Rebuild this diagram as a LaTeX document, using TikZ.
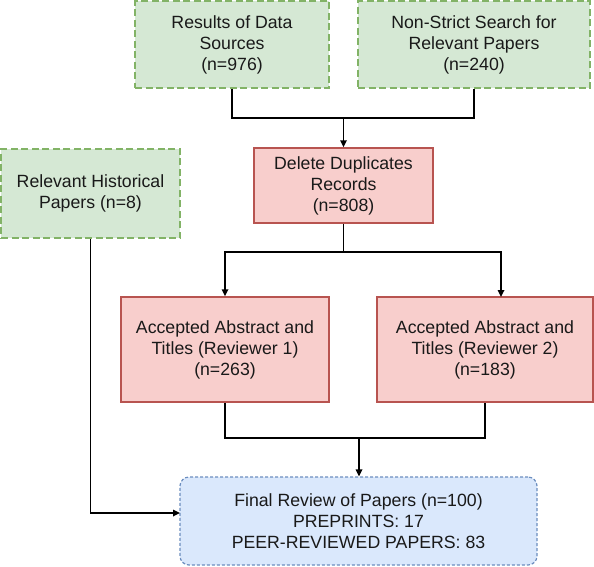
\documentclass[tikz,border=0pt]{standalone}
\usepackage{fontspec}
\setmainfont{Liberation Sans}
\usetikzlibrary{arrows.meta,calc}
\definecolor{gfill}{HTML}{D5E8D4}
\definecolor{gline}{HTML}{82B366}
\definecolor{rfill}{HTML}{F8CECC}
\definecolor{rline}{HTML}{B85450}
\definecolor{bfill}{HTML}{DAE8FC}
\definecolor{bline}{HTML}{6C8EBF}
\begin{document}
\begin{tikzpicture}[x=1pt,y=-1pt,
  every node/.style={font=\fontsize{17.7}{21}\selectfont, align=center, inner sep=0pt, text=black!90},
  boxbase/.style={rectangle, line width=1.5pt},
  greenbox/.style={boxbase, fill=gfill, draw=gline, dash pattern=on 7pt off 3.5pt},
  redbox/.style={boxbase, fill=rfill, draw=rline},
  bluebox/.style={boxbase, fill=bfill, draw=bline, dash pattern=on 3pt off 2pt, rounded corners=9pt, line width=1.2pt},
  conn/.style={line width=1.6pt, black},
  arr/.style={conn, -{Triangle[length=7pt,width=6.5pt]}}
]
\useasboundingbox (0,0) rectangle (594,566);
\node[greenbox, minimum width=194pt, minimum height=87pt] (A) at (232,44.5) {Results of Data\\Sources\\(n=976)};
\node[greenbox, minimum width=232pt, minimum height=87pt] (B) at (474,44.5) {Non-Strict Search for\\Relevant Papers\\(n=240)};
\node[greenbox, minimum width=179pt, minimum height=89pt] (H) at (90.5,193.5) {Relevant Historical\\Papers (n=8)};
\node[redbox, minimum width=179pt, minimum height=75pt] (C) at (343.5,185.5) {Delete Duplicates\\Records\\(n=808)};
\node[redbox, minimum width=208pt, minimum height=105pt] (D) at (225,349.5) {Accepted Abstract and\\Titles (Reviewer 1)\\(n=263)};
\node[redbox, minimum width=216pt, minimum height=105pt] (E) at (485,349.5) {Accepted Abstract and\\Titles (Reviewer 2)\\(n=183)};
\node[bluebox, minimum width=357pt, minimum height=88pt] (F) at (358.5,521) {Final Review of Papers (n=100)\\PREPRINTS: 17\\PEER-REVIEWED PAPERS: 83};
% junctions
\coordinate (j1) at (343.5,118);
\coordinate (j2) at (343.5,252);
\coordinate (eIn) at (501,297);
\coordinate (j3) at (359,438);
\coordinate (hIn) at (180,513);
\draw[conn] (A.south) |- (j1) -| (B.south);
\draw[arr] (j1) -- (C.north);
\draw[conn] (C.south) -- (j2);
\draw[arr] (j2) -| (D.north);
\draw[arr] (j2) -| (eIn);
\draw[conn] (D.south) |- (j3) -| (E.south);
\draw[arr] (j3) -- (j3 |- F.north);
\draw[arr] (H.south) |- (hIn);
\end{tikzpicture}
\end{document}
